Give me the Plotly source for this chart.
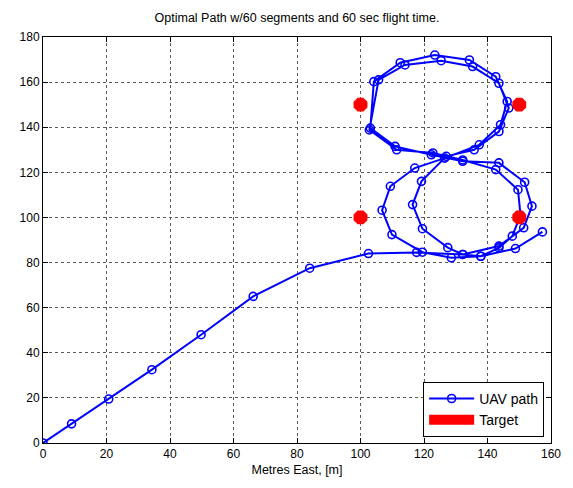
import plotly.graph_objects as go

# UAV path waypoints (metres East / metres North)
path_east = [
    0.0, 9.0, 20.7, 34.3, 49.8, 66.2, 84.0, 102.5,
    117.7, 132.2, 143.6, 151.4, 154.0, 151.7, 143.6,
    132.2, 122.3, 110.9, 103.1, 104.2, 112.5, 123.4, 134.3, 142.6, 146.2, 144.1, 137.4, 126.5,
    117.1, 109.4, 106.8, 109.9, 119.5, 128.6, 137.9, 143.6, 147.8, 150.4, 149.6, 142.6, 132.2,
    122.8, 111.4, 102.8, 105.7, 114.0, 125.4, 135.3, 143.6, 146.7, 143.6, 135.8, 127.0,
    119.2, 116.4, 119.5, 127.5, 132.2, 137.9, 148.8, 157.3,
]
path_north = [
    0.0, 8.5, 19.5, 32.5, 48.0, 65.0, 77.5, 84.0,
    84.5, 83.6, 87.3, 95.4, 105.0, 115.6, 124.2,
    124.9, 127.8, 131.5, 139.6, 160.2, 168.6, 172.0, 169.8, 162.4, 151.4, 141.1, 132.2, 126.3,
    121.9, 113.8, 103.2, 92.4, 84.6, 82.1, 82.8, 86.5, 91.7, 101.0, 112.3, 121.2, 125.5,
    128.6, 130.0, 138.8, 161.0, 167.6, 169.5, 166.9, 159.5, 148.5, 138.1, 130.0, 127.1,
    116.0, 105.7, 95.0, 86.6, 83.6, 82.8, 86.2, 93.6,
]

# Target locations
target_east = [100, 150, 100, 150]
target_north = [150, 150, 100, 100]

x_ticks = [0, 20, 40, 60, 80, 100, 120, 140, 160]
y_ticks = [0, 20, 40, 60, 80, 100, 120, 140, 160, 180]

BLUE = "#0000ff"
RED = "#ff0000"
FONT = "Liberation Sans, Arial, sans-serif"

fig = go.Figure()

fig.add_trace(go.Scatter(
    x=path_east, y=path_north, mode="lines+markers", name="UAV path",
    line=dict(color=BLUE, width=2),
    marker=dict(symbol="circle-open", size=8, color=BLUE, line=dict(width=1.6, color=BLUE)),
))

fig.add_trace(go.Scatter(
    x=target_east, y=target_north, mode="markers", name="Target", showlegend=False,
    marker=dict(symbol="octagon", size=15, color=RED, line=dict(width=0)),
))

# legend entry for targets shown as a filled red patch
fig.add_trace(go.Scatter(
    x=[None], y=[None], mode="lines", name="Target",
    line=dict(color=RED, width=14),
))

axis_common = dict(
    showline=True, linecolor="black", linewidth=1, mirror="ticks",
    ticks="inside", ticklen=5, tickcolor="black",
    showgrid=True, gridcolor="#5a5a5a", griddash="dot", gridwidth=1,
    zeroline=False, tickfont=dict(family=FONT, size=12, color="black"),
)

fig.update_xaxes(range=[0, 160], tickvals=x_ticks,
                 title=dict(text="Metres East, [m]", font=dict(family=FONT, size=12.5, color="black"), standoff=4),
                 **axis_common)
fig.update_yaxes(range=[0, 180], tickvals=y_ticks, **axis_common)

fig.update_layout(
    width=573, height=488,
    margin=dict(l=43, r=13, t=37, b=45),
    paper_bgcolor="white", plot_bgcolor="white",
    title=dict(text="Optimal Path w/60 segments and 60 sec flight time.",
               x=0.5, xanchor="center", xref="paper", y=1 - 18 / 488, yanchor="middle",
               font=dict(family=FONT, size=12.5, color="black")),
    showlegend=True,
    legend=dict(x=0.9865, y=0.015, xanchor="right", yanchor="bottom",
                bgcolor="white", bordercolor="black", borderwidth=1,
                font=dict(family=FONT, size=14, color="black"),
                tracegroupgap=0, itemwidth=45),
)

fig.write_html("out.html")
